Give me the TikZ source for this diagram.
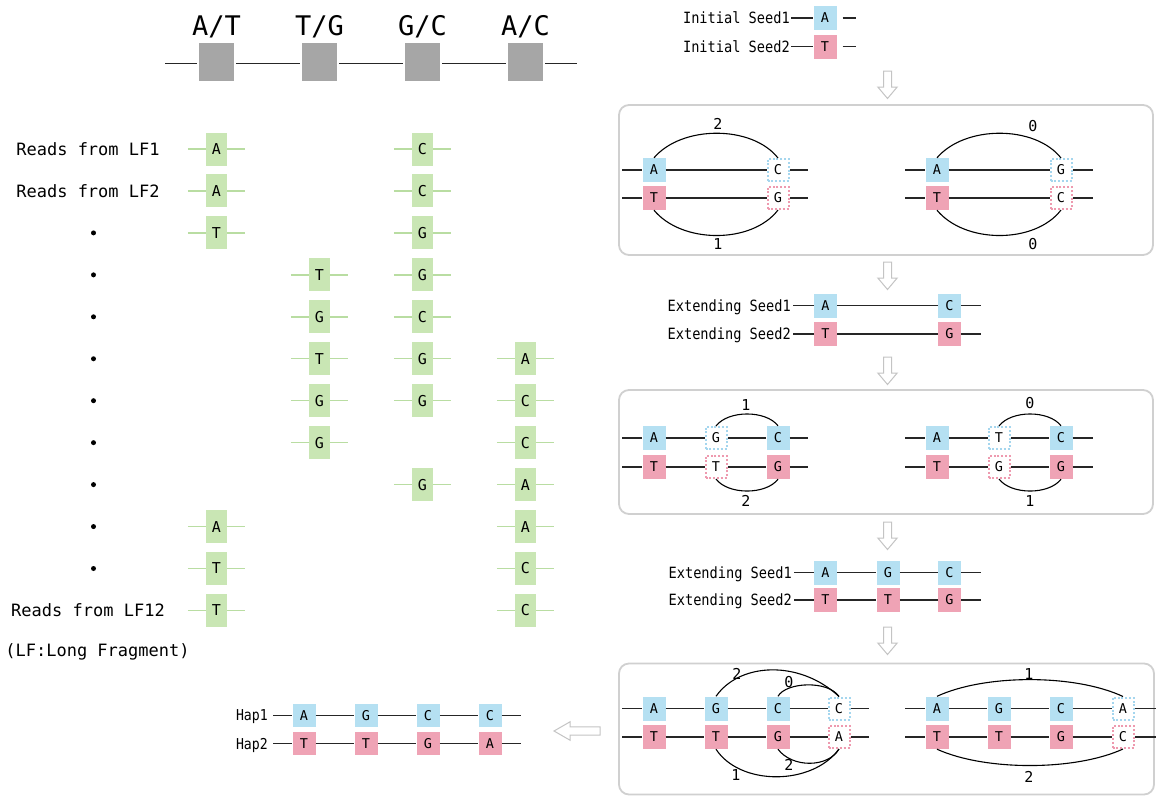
\documentclass[tikz,border=0pt]{standalone}
\usepackage{fontspec}
\setmainfont{DejaVu Sans Mono}
\newfontfamily\seedfont{DejaVu Sans Mono}[FakeStretch=0.88]
\definecolor{gfill}{HTML}{C9E6B4}
\definecolor{gline}{HTML}{B9DDA2}
\definecolor{bfill}{HTML}{B5E0F2}
\definecolor{pfill}{HTML}{EFA3B5}
\definecolor{bdotc}{HTML}{A5D6EE}
\definecolor{pdotc}{HTML}{EE9AAF}
\definecolor{panelc}{HTML}{D0D0D0}
\definecolor{grayboxc}{HTML}{A6A6A6}
\definecolor{arrowc}{HTML}{C4C4C4}
\begin{document}
\begin{tikzpicture}[x=1pt,y=-1pt,
  greenbox/.style={fill=gfill, minimum width=21pt, minimum height=33pt, inner sep=0pt, font=\fontsize{15}{15}\selectfont},
  bluebox/.style={fill=bfill, minimum width=23pt, minimum height=24pt, inner sep=0pt, font=\fontsize{13.5}{13.5}\selectfont},
  pinkbox/.style={fill=pfill, minimum width=23pt, minimum height=24pt, inner sep=0pt, font=\fontsize{13.5}{13.5}\selectfont},
  bluedot/.style={fill=white, draw=bdotc, line width=2pt, dash pattern=on 2pt off 1.8pt, minimum width=21pt, minimum height=22pt, inner sep=0pt, font=\fontsize{13.5}{13.5}\selectfont},
  pinkdot/.style={fill=white, draw=pdotc, line width=2pt, dash pattern=on 2pt off 1.8pt, minimum width=21pt, minimum height=22pt, inner sep=0pt, font=\fontsize{13.5}{13.5}\selectfont},
  hapblue/.style={bluebox, minimum height=23pt},
  happink/.style={pinkbox, minimum height=23pt},
  graybox/.style={fill=grayboxc, draw=white, line width=2.5pt, minimum width=37pt, minimum height=40pt, inner sep=0pt},
  seqline/.style={draw=black!85, line width=1.1pt},
  arcline/.style={draw=black, line width=1.1pt},
  readlbl/.style={font=\fontsize{17}{17}\selectfont, inner sep=0pt, anchor=base},
  seedlbl/.style={font=\seedfont\fontsize{15.5}{15.5}\selectfont, inner sep=0pt, anchor=base east},
  haplbl/.style={font=\seedfont\fontsize{15}{15}\selectfont, inner sep=0pt, anchor=base east},
  toplbl/.style={font=\fontsize{27}{27}\selectfont, inner sep=0pt, anchor=base},
  numlbl/.style={font=\fontsize{15}{15}\selectfont, inner sep=0pt, anchor=base},
  panelbox/.style={draw=panelc, line width=1.8pt, rounded corners=10pt, fill=none, inner sep=0pt},
  hollow/.style={draw=arrowc, fill=white, line width=1pt, line join=miter},
  dotmark/.style={circle, fill=black, inner sep=0pt, minimum size=5pt}
]
\useasboundingbox (0,0) rectangle (1156,796);

% ---------- helpers ----------
\newcommand{\greenread}[4]{%
  \node[greenbox] (#1) at (#2,{149+41.95*(#3-1)}) {#4};
  \draw[gline, line width=1.4pt] ([xshift=-18pt]#1.west) -- (#1.west) (#1.east) -- ([xshift=18pt]#1.east);
}
\newcommand{\hollowdown}[2]{%
  \draw[hollow] ({#1-4},#2) -- ({#1+4},#2) -- ({#1+4},{#2+16}) -- ({#1+9.7},{#2+16}) -- (#1,{#2+27.5}) -- ({#1-9.7},{#2+16}) -- ({#1-4},{#2+16}) -- cycle;
}

% ---------- top reference ----------
\coordinate (tl) at (165,63);
\coordinate (tr) at (577,63);
\draw[seqline, line width=1pt] (tl) -- (tr);
\node[graybox] (g1) at (216.5,62) {};
\node[graybox] (g2) at (319.5,62) {};
\node[graybox] (g3) at (422.5,62) {};
\node[graybox] (g4) at (525.5,62) {};
\node[toplbl] (t1) at (216.5,35) {A/T};
\node[toplbl] (t2) at (319.5,35) {T/G};
\node[toplbl] (t3) at (422.5,35) {G/C};
\node[toplbl] (t4) at (525.5,35) {A/C};

% ---------- reads ----------
\node[readlbl] (lf1) at (88,155.2) {Reads from LF1};
\node[readlbl] (lf2) at (88,197.2) {Reads from LF2};
\foreach \i in {3,...,11} {
  \node[dotmark] (bul\i) at (93.5,{149+41.95*(\i-1)}) {};
}
\node[readlbl] (lf12) at (88,616.7) {Reads from LF12};
\node[readlbl] (lfnote) at (97.5,656) {(LF:Long Fragment)};

\greenread{r1a}{216.5}{1}{A}
\greenread{r1c}{422.5}{1}{C}
\greenread{r2a}{216.5}{2}{A}
\greenread{r2c}{422.5}{2}{C}
\greenread{r3a}{216.5}{3}{T}
\greenread{r3c}{422.5}{3}{G}
\greenread{r4b}{319.5}{4}{T}
\greenread{r4c}{422.5}{4}{G}
\greenread{r5b}{319.5}{5}{G}
\greenread{r5c}{422.5}{5}{C}
\greenread{r6b}{319.5}{6}{T}
\greenread{r6c}{422.5}{6}{G}
\greenread{r6d}{525.5}{6}{A}
\greenread{r7b}{319.5}{7}{G}
\greenread{r7c}{422.5}{7}{G}
\greenread{r7d}{525.5}{7}{C}
\greenread{r8b}{319.5}{8}{G}
\greenread{r8d}{525.5}{8}{C}
\greenread{r9c}{422.5}{9}{G}
\greenread{r9d}{525.5}{9}{A}
\greenread{r10a}{216.5}{10}{A}
\greenread{r10d}{525.5}{10}{A}
\greenread{r11a}{216.5}{11}{T}
\greenread{r11d}{525.5}{11}{C}
\greenread{r12a}{216.5}{12}{T}
\greenread{r12d}{525.5}{12}{C}

% ---------- initial seeds ----------
\node[seedlbl] (is1) at (790,23.6) {Initial Seed1};
\node[seedlbl] (is2) at (790,52.1) {Initial Seed2};
\node[bluebox] (isA) at (825,18) {A};
\node[pinkbox] (isT) at (825,46.5) {T};
\coordinate (is1e) at (856,18);
\coordinate (is2e) at (856,46.5);
\draw[seqline] ([xshift=1pt,yshift=5.6pt]is1.base east) -- (isA.west);
\draw[seqline] ([xshift=1pt,yshift=5.6pt]is2.base east) -- (isT.west);
\draw[seqline] ([xshift=6pt]isA.east) -- (is1e);
\draw[seqline] ([xshift=6pt]isT.east) -- (is2e);

\hollowdown{887.5}{71}

% ---------- panel 1 ----------
\node[panelbox, minimum width=534pt, minimum height=150pt] (p1) at (886,180) {};
\coordinate (p1l1) at (622,170); \coordinate (p1r1) at (808,170);
\coordinate (p1l2) at (622,198); \coordinate (p1r2) at (808,198);
\node[bluebox] (p1A) at (654,170) {A};
\node[bluedot] (p1C) at (778,170) {C};
\node[pinkbox] (p1T) at (654,198) {T};
\node[pinkdot] (p1G) at (778,198) {G};
\draw[seqline] (p1l1) -- (p1A) -- (p1C) -- (p1r1);
\draw[seqline] (p1l2) -- (p1T) -- (p1G) -- (p1r2);
\draw[arcline] (p1A.north) .. controls (682,125) and (752,125) .. (p1C.north);
\draw[arcline] (p1T.south) .. controls (682,244) and (752,244) .. (p1G.south);
\node[numlbl] (n1a) at (718,129.5) {2};
\node[numlbl] (n1b) at (718,249.5) {1};

\coordinate (q1l1) at (905,170); \coordinate (q1r1) at (1093,170);
\coordinate (q1l2) at (905,198); \coordinate (q1r2) at (1093,198);
\node[bluebox] (q1A) at (937,170) {A};
\node[bluedot] (q1G) at (1061,170) {G};
\node[pinkbox] (q1T) at (937,198) {T};
\node[pinkdot] (q1C) at (1061,198) {C};
\draw[seqline] (q1l1) -- (q1A) -- (q1G) -- (q1r1);
\draw[seqline] (q1l2) -- (q1T) -- (q1C) -- (q1r2);
\draw[arcline] (q1A.north) .. controls (965,125) and (1035,125) .. (q1G.north);
\draw[arcline] (q1T.south) .. controls (965,244) and (1035,244) .. (q1C.south);
\node[numlbl] (n1c) at (1033,131.5) {0};
\node[numlbl] (n1d) at (1033,249.5) {0};

\hollowdown{887.5}{262}

% ---------- extending seeds 1 ----------
\node[seedlbl] (es1) at (791,311.1) {Extending Seed1};
\node[seedlbl] (es2) at (791,339.6) {Extending Seed2};
\node[bluebox] (e1A) at (825.5,305.5) {A};
\node[bluebox] (e1C) at (949.5,305.5) {C};
\node[pinkbox] (e1T) at (825.5,334) {T};
\node[pinkbox] (e1G) at (949.5,334) {G};
\coordinate (e1r1) at (981,305.5);
\coordinate (e1r2) at (981,334);
\draw[seqline] ([xshift=2pt,yshift=5.6pt]es1.base east) -- (e1A) -- (e1C) -- (e1r1);
\draw[seqline] ([xshift=2pt,yshift=5.6pt]es2.base east) -- (e1T) -- (e1G) -- (e1r2);

\hollowdown{887.5}{357}

% ---------- panel 2 ----------
\node[panelbox, minimum width=534pt, minimum height=124pt] (p2) at (886,452) {};
\coordinate (p2l1) at (622,438); \coordinate (p2r1) at (808,438);
\coordinate (p2l2) at (622,467); \coordinate (p2r2) at (808,467);
\node[bluebox] (p2A) at (654,438) {A};
\node[bluedot] (p2G) at (716,438) {G};
\node[bluebox] (p2C) at (778,438) {C};
\node[pinkbox] (p2T) at (654,467) {T};
\node[pinkdot] (p2Tb) at (716,467) {T};
\node[pinkbox] (p2G2) at (778,467) {G};
\draw[seqline] (p2l1) -- (p2A) -- (p2G) -- (p2C) -- (p2r1);
\draw[seqline] (p2l2) -- (p2T) -- (p2Tb) -- (p2G2) -- (p2r2);
\draw[arcline] (p2G.north) .. controls (728,410) and (766,410) .. (p2C.north);
\draw[arcline] (p2Tb.south) .. controls (728,495) and (766,495) .. (p2G2.south);
\node[numlbl] (n2a) at (746,410.5) {1};
\node[numlbl] (n2b) at (746,506.5) {2};

\coordinate (q2l1) at (905,438); \coordinate (q2r1) at (1093,438);
\coordinate (q2l2) at (905,467); \coordinate (q2r2) at (1093,467);
\node[bluebox] (q2A) at (937,438) {A};
\node[bluedot] (q2T) at (999,438) {T};
\node[bluebox] (q2C) at (1061,438) {C};
\node[pinkbox] (q2T2) at (937,467) {T};
\node[pinkdot] (q2G) at (999,467) {G};
\node[pinkbox] (q2G2) at (1061,467) {G};
\draw[seqline] (q2l1) -- (q2A) -- (q2T) -- (q2C) -- (q2r1);
\draw[seqline] (q2l2) -- (q2T2) -- (q2G) -- (q2G2) -- (q2r2);
\draw[arcline] (q2T.north) .. controls (1011,410) and (1049,410) .. (q2C.north);
\draw[arcline] (q2G.south) .. controls (1011,495) and (1049,495) .. (q2G2.south);
\node[numlbl] (n2c) at (1030,408.5) {0};
\node[numlbl] (n2d) at (1030,506.5) {1};

\hollowdown{887.5}{522}

% ---------- extending seeds 2 ----------
\node[seedlbl] (fs1) at (792,578.1) {Extending Seed1};
\node[seedlbl] (fs2) at (792,605.6) {Extending Seed2};
\node[bluebox] (f1A) at (825.5,572.5) {A};
\node[bluebox] (f1G) at (888,572.5) {G};
\node[bluebox] (f1C) at (949.5,572.5) {C};
\node[pinkbox] (f1T) at (825.5,600) {T};
\node[pinkbox] (f1T2) at (888,600) {T};
\node[pinkbox] (f1G2) at (949.5,600) {G};
\coordinate (f1r1) at (981,572.5);
\coordinate (f1r2) at (981,600);
\draw[seqline] ([xshift=2pt,yshift=5.6pt]fs1.base east) -- (f1A) -- (f1G) -- (f1C) -- (f1r1);
\draw[seqline] ([xshift=2pt,yshift=5.6pt]fs2.base east) -- (f1T) -- (f1T2) -- (f1G2) -- (f1r2);

\hollowdown{887.5}{627}

% ---------- panel 3 ----------
\node[panelbox, minimum width=535pt, minimum height=131pt] (p3) at (886.5,729) {};
\coordinate (p3l1) at (622,708.5); \coordinate (p3r1) at (869,708.5);
\coordinate (p3l2) at (622,737); \coordinate (p3r2) at (869,737);
\node[bluebox] (p3A) at (654,708.5) {A};
\node[bluebox] (p3G) at (716,708.5) {G};
\node[bluebox] (p3C) at (778,708.5) {C};
\node[bluedot] (p3Cd) at (839,708.5) {C};
\node[pinkbox] (p3T) at (654,737) {T};
\node[pinkbox] (p3T2) at (716,737) {T};
\node[pinkbox] (p3G2) at (778,737) {G};
\node[pinkdot] (p3Ad) at (839,737) {A};
\draw[seqline] (p3l1) -- (p3A) -- (p3G) -- (p3C) -- (p3Cd) -- (p3r1);
\draw[seqline] (p3l2) -- (p3T) -- (p3T2) -- (p3G2) -- (p3Ad) -- (p3r2);
\draw[arcline] (p3G.north) .. controls (740,662) and (800,660) .. (p3Cd.north);
\draw[arcline] (p3C.north) .. controls (786,682) and (828,680) .. (p3Cd.north);
\draw[arcline] (p3T2.south) .. controls (740,786) and (812,786) .. (p3Ad.south);
\draw[arcline] (p3G2.south) .. controls (792,768) and (828,768) .. (p3Ad.south);
\node[numlbl] (n3a) at (737,679.5) {2};
\node[numlbl] (n3b) at (789,687) {0};
\node[numlbl] (n3c) at (736,780.5) {1};
\node[numlbl] (n3d) at (789,770.5) {2};

\coordinate (q3l1) at (905,708.5); \coordinate (q3r1) at (1156,708.5);
\coordinate (q3l2) at (905,737); \coordinate (q3r2) at (1156,737);
\node[bluebox] (q3A) at (937,708.5) {A};
\node[bluebox] (q3G) at (999,708.5) {G};
\node[bluebox] (q3C) at (1061,708.5) {C};
\node[bluedot] (q3Ad) at (1123,708.5) {A};
\node[pinkbox] (q3T) at (937,737) {T};
\node[pinkbox] (q3T2) at (999,737) {T};
\node[pinkbox] (q3G2) at (1061,737) {G};
\node[pinkdot] (q3Cd) at (1123,737) {C};
\draw[seqline] (q3l1) -- (q3A) -- (q3G) -- (q3C) -- (q3Ad) -- (q3r1);
\draw[seqline] (q3l2) -- (q3T) -- (q3T2) -- (q3G2) -- (q3Cd) -- (q3r2);
\draw[arcline] (q3A.north) .. controls (985,674) and (1075,674) .. (q3Ad.north);
\draw[arcline] (q3T.south) .. controls (985,771) and (1075,771) .. (q3Cd.south);
\node[numlbl] (n3e) at (1029,679.5) {1};
\node[numlbl] (n3f) at (1029,782.5) {2};

% ---------- left arrow ----------
\draw[hollow] (554,731) -- (570,721.8) -- (570,726.8) -- (600,726.8) -- (600,735.2) -- (570,735.2) -- (570,740.2) -- cycle;

% ---------- haplotypes ----------
\node[haplbl] (h1) at (268,720.6) {Hap1};
\node[haplbl] (h2) at (268,749.1) {Hap2};
\node[hapblue] (h1a) at (304,715.3) {A};
\node[hapblue] (h1b) at (366,715.3) {G};
\node[hapblue] (h1c) at (428,715.3) {C};
\node[hapblue] (h1d) at (490,715.3) {C};
\node[happink] (h2a) at (304,743.8) {T};
\node[happink] (h2b) at (366,743.8) {T};
\node[happink] (h2c) at (428,743.8) {G};
\node[happink] (h2d) at (490,743.8) {A};
\coordinate (h1e) at (521,715.3);
\coordinate (h2e) at (521,743.8);
\draw[seqline] ([xshift=5pt,yshift=5.3pt]h1.base east) -- (h1a) -- (h1b) -- (h1c) -- (h1d) -- (h1e);
\draw[seqline] ([xshift=5pt,yshift=5.3pt]h2.base east) -- (h2a) -- (h2b) -- (h2c) -- (h2d) -- (h2e);
\end{tikzpicture}
\end{document}
